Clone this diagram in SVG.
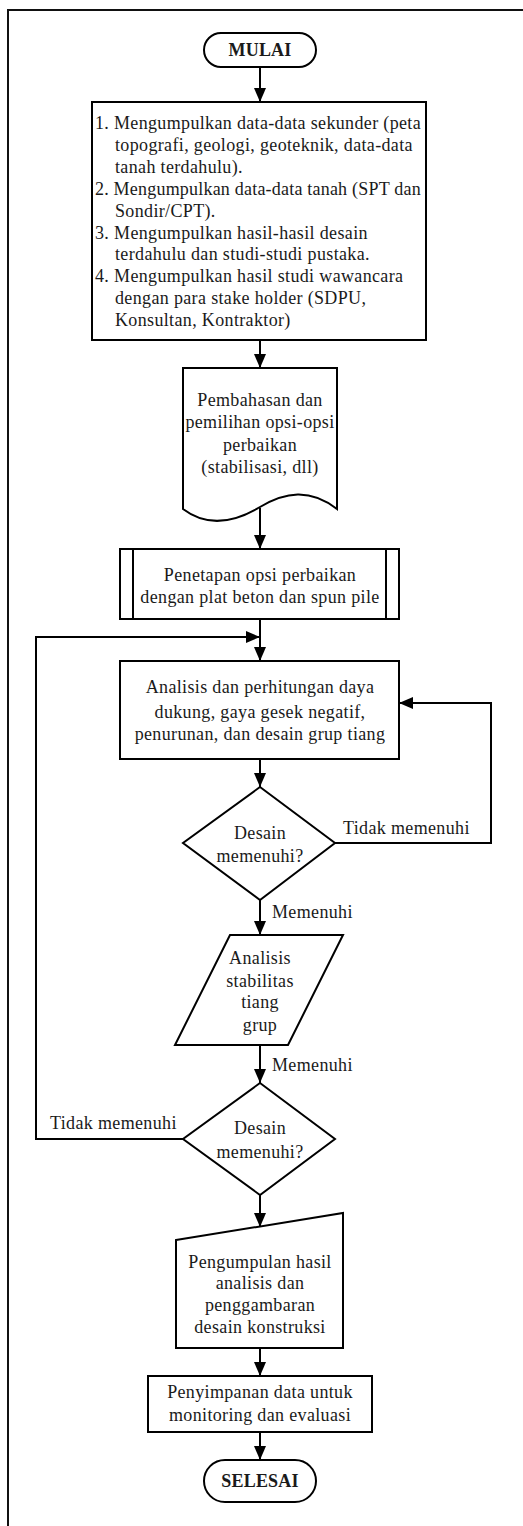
<svg xmlns="http://www.w3.org/2000/svg" width="523" height="1526" viewBox="0 0 523 1526">
<defs>
<style>
.s{fill:#fff;stroke:#000;stroke-width:2}
.c{fill:none;stroke:#000;stroke-width:2}
.t{font-family:"Liberation Serif","Times New Roman",serif;font-size:18px;fill:#1a1a1a;letter-spacing:0.35px}
.m{text-anchor:middle}
.b{font-weight:bold;letter-spacing:0.2px}
</style>
<marker id="ah" markerWidth="14" markerHeight="12" refX="14" refY="6" orient="auto" markerUnits="userSpaceOnUse"><path d="M0,0 L14,6 L0,12 z" fill="#000"/></marker>
</defs>
<rect width="523" height="1526" fill="#fff"/>
<path d="M523,10 H8 V1526" fill="none" stroke="#111" stroke-width="2"/>

<g id="connectors">
<line class="c" x1="260" y1="67" x2="260" y2="102" marker-end="url(#ah)"/>
<line class="c" x1="260" y1="340" x2="260" y2="368" marker-end="url(#ah)"/>
<line class="c" x1="260" y1="508" x2="260" y2="549" marker-end="url(#ah)"/>
<line class="c" x1="260" y1="619" x2="260" y2="661" marker-end="url(#ah)"/>
<polyline class="c" points="183,1139 36,1139 36,637 260,637" marker-end="url(#ah)"/>
<line class="c" x1="260" y1="759" x2="260" y2="787" marker-end="url(#ah)"/>
<polyline class="c" points="335,843 491,843 491,703 399,703" marker-end="url(#ah)"/>
<line class="c" x1="260" y1="900" x2="260" y2="935" marker-end="url(#ah)"/>
<line class="c" x1="260" y1="1045" x2="260" y2="1083" marker-end="url(#ah)"/>
<line class="c" x1="260" y1="1195" x2="260" y2="1227" marker-end="url(#ah)"/>
<line class="c" x1="260" y1="1348" x2="260" y2="1376" marker-end="url(#ah)"/>
<line class="c" x1="260" y1="1432" x2="260" y2="1460" marker-end="url(#ah)"/>
<text class="t" x="343" y="834">Tidak memenuhi</text>
<text class="t" x="272" y="918">Memenuhi</text>
<text class="t" x="272" y="1071">Memenuhi</text>
<text class="t" x="50" y="1129">Tidak memenuhi</text>
</g>

<g id="start">
<rect class="s" x="204" y="33" width="112" height="34" rx="17"/>
<text class="t m b" x="260" y="56">MULAI</text>
</g>

<g id="collect">
<rect class="s" x="92" y="102" width="334" height="238"/>
<text class="t" x="95" y="129" textLength="326" lengthAdjust="spacing">1. Mengumpulkan data-data sekunder (peta</text>
<text class="t" x="115" y="151">topografi, geologi, geoteknik, data-data</text>
<text class="t" x="115" y="173">tanah terdahulu).</text>
<text class="t" x="95" y="195" textLength="326" lengthAdjust="spacing">2. Mengumpulkan data-data tanah (SPT dan</text>
<text class="t" x="115" y="217">Sondir/CPT).</text>
<text class="t" x="95" y="239">3. Mengumpulkan hasil-hasil desain</text>
<text class="t" x="115" y="260">terdahulu dan studi-studi pustaka.</text>
<text class="t" x="95" y="282">4. Mengumpulkan hasil studi wawancara</text>
<text class="t" x="115" y="304">dengan para stake holder (SDPU,</text>
<text class="t" x="115" y="326">Konsultan, Kontraktor)</text>
</g>

<g id="discussion">
<path class="s" d="M183,368 H337 V509 C310,488 285,492 260,507 C235,522 208,528 183,509 Z"/>
<text class="t m" x="260" y="406">Pembahasan dan</text>
<text class="t m" x="260" y="428">pemilihan opsi-opsi</text>
<text class="t m" x="260" y="451">perbaikan</text>
<text class="t m" x="260" y="473">(stabilisasi, dll)</text>
</g>

<g id="option">
<rect class="s" x="120" y="549" width="279" height="70"/>
<line class="c" x1="133" y1="549" x2="133" y2="619"/>
<line class="c" x1="386" y1="549" x2="386" y2="619"/>
<text class="t m" x="260" y="581">Penetapan opsi perbaikan</text>
<text class="t m" x="260" y="603">dengan plat beton dan spun pile</text>
</g>

<g id="analysis">
<rect class="s" x="120" y="661" width="279" height="98"/>
<text class="t m" x="260" y="693">Analisis dan perhitungan daya</text>
<text class="t m" x="260" y="718">dukung, gaya gesek negatif,</text>
<text class="t m" x="260" y="740">penurunan, dan desain grup tiang</text>
</g>

<g id="decision1">
<polygon class="s" points="260,787 335,843 260,900 183,843"/>
<text class="t m" x="260" y="839">Desain</text>
<text class="t m" x="260" y="862">memenuhi?</text>
</g>

<g id="stability">
<polygon class="s" points="230,935 343,935 288,1045 175,1045"/>
<text class="t m" x="260" y="964">Analisis</text>
<text class="t m" x="260" y="987">stabilitas</text>
<text class="t m" x="260" y="1008">tiang</text>
<text class="t m" x="260" y="1031">grup</text>
</g>

<g id="decision2">
<polygon class="s" points="260,1083 335,1139 260,1195 183,1139"/>
<text class="t m" x="260" y="1134">Desain</text>
<text class="t m" x="260" y="1158">memenuhi?</text>
</g>

<g id="compile">
<polygon class="s" points="176,1240 343,1213 343,1348 176,1348"/>
<text class="t m" x="260" y="1268">Pengumpulan hasil</text>
<text class="t m" x="260" y="1289">analisis dan</text>
<text class="t m" x="260" y="1311">penggambaran</text>
<text class="t m" x="260" y="1333">desain konstruksi</text>
</g>

<g id="store">
<rect class="s" x="148" y="1376" width="224" height="56"/>
<text class="t m" x="260" y="1398">Penyimpanan data untuk</text>
<text class="t m" x="260" y="1421">monitoring dan evaluasi</text>
</g>

<g id="end">
<rect class="s" x="204" y="1460" width="112" height="42" rx="21"/>
<text class="t m b" x="260" y="1487">SELESAI</text>
</g>
</svg>
